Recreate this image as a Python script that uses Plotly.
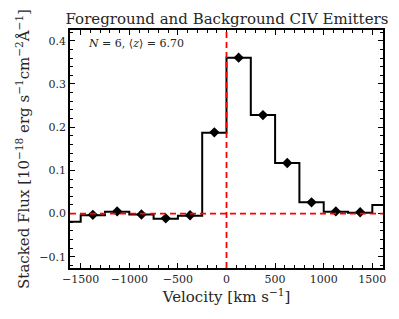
import plotly.graph_objects as go

# Velocity bin centers (km/s) and stacked flux values
bin_centers = [-1625, -1375, -1125, -875, -625, -375, -125, 125, 375, 625, 875, 1125, 1375, 1625]
bin_flux = [-0.019, -0.004, 0.004, -0.002, -0.012, -0.005, 0.187, 0.361, 0.228, 0.117, 0.026, 0.004, 0.002, 0.020]

# Points with error bars
pt_vel = [-1375, -1125, -875, -625, -375, -125, 125, 375, 625, 875, 1125, 1375]
pt_flux = [-0.003, 0.005, -0.002, -0.011, -0.004, 0.188, 0.361, 0.228, 0.117, 0.026, 0.005, 0.003]
pt_err = [0.007, 0.007, 0.007, 0.007, 0.007, 0.007, 0.007, 0.007, 0.007, 0.007, 0.007, 0.007]

x_ticks = [-1500, -1000, -500, 0, 500, 1000, 1500]
y_ticks = [-0.1, 0.0, 0.1, 0.2, 0.3, 0.4]

FONT = "DejaVu Serif"
TXT = "#262626"

fig = go.Figure()
fig.add_trace(go.Scatter(x=bin_centers, y=bin_flux, mode="lines", line_shape="hvh",
                         line=dict(color="black", width=2), showlegend=False))
fig.add_trace(go.Scatter(x=pt_vel, y=pt_flux, mode="markers",
                         marker=dict(symbol="diamond", size=8, color="black"),
                         error_y=dict(type="data", array=pt_err, color="black", thickness=1.5, width=0),
                         showlegend=False))
fig.add_hline(y=0, line=dict(color="red", width=1.8, dash="6px,4px"), layer="above")
fig.add_vline(x=0, line=dict(color="red", width=1.8, dash="6px,4px"), layer="above")

fig.add_annotation(text="<i>N</i> = 6, ⟨<i>z</i>⟩ = 6.70", xref="paper", yref="paper",
                   x=0.051, y=0.945, xanchor="left", yanchor="middle", showarrow=False,
                   font=dict(family=FONT, size=11, color=TXT))

axis_common = dict(showline=True, linecolor="black", linewidth=1.5, mirror="ticks",
                   ticks="inside", ticklen=5, tickwidth=1.2, tickcolor="black",
                   showgrid=False, zeroline=False,
                   tickfont=dict(family=FONT, size=11, color=TXT))

fig.update_xaxes(range=[-1610, 1610], tickvals=x_ticks,
                 minor=dict(ticks="inside", dtick=100, ticklen=3, tickcolor="black", tickwidth=1),
                 title=dict(text="Velocity [km s<sup>−1</sup>]", font=dict(family=FONT, size=15, color=TXT), standoff=4),
                 **axis_common)
fig.update_yaxes(range=[-0.126, 0.425], tickvals=y_ticks, tickformat=".1f",
                 minor=dict(ticks="inside", dtick=0.02, tick0=0, ticklen=3, tickcolor="black", tickwidth=1),
                 title=dict(text="Stacked Flux [10<sup>−18</sup> erg s<sup>−1</sup>cm<sup>−2</sup>Å<sup>−1</sup>]",
                            font=dict(family=FONT, size=15, color=TXT), standoff=6),
                 **axis_common)

fig.update_layout(width=391, height=311, margin=dict(l=62, r=16, t=22, b=51, autoexpand=False),
                  plot_bgcolor="white", paper_bgcolor="white",
                  title=dict(text="Foreground and Background CIV Emitters", x=0.56, xanchor="center",
                             y=0.965, yanchor="middle",
                             font=dict(family=FONT, size=15, color=TXT)))

fig.write_html("out.html")
